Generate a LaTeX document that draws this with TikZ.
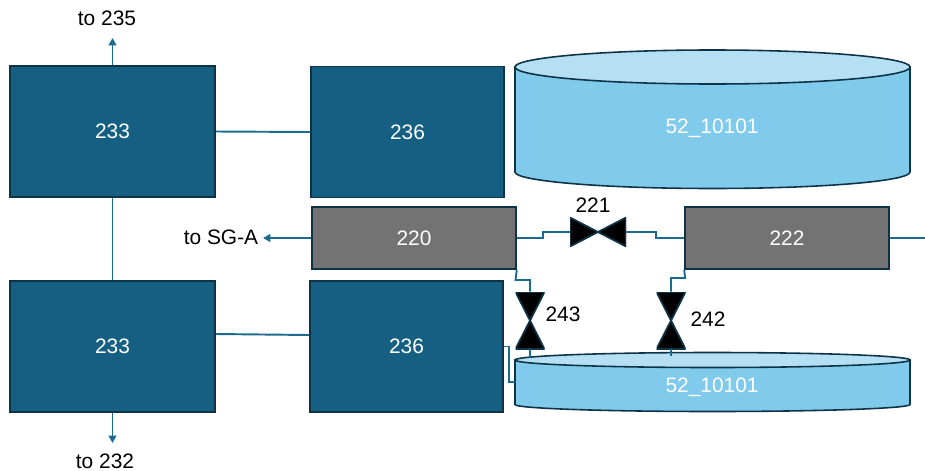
\documentclass[tikz,border=0pt]{standalone}
\usepackage{fontspec}
\setmainfont{Liberation Sans}
\usetikzlibrary{arrows.meta,calc}
\definecolor{boxblue}{HTML}{156082}
\definecolor{boxedge}{HTML}{0E3347}
\definecolor{pipeblue}{HTML}{1B6B8F}
\definecolor{tankblue}{HTML}{80CAEB}
\definecolor{tanktop}{HTML}{B5DFF3}
\definecolor{boxgray}{HTML}{737373}
\tikzset{
  lbl/.style={font=\fontsize{11.9}{14}\selectfont},
  unit/.style={lbl,draw=boxedge,line width=0.9pt,text=white,inner sep=0pt},
  bluebox/.style={unit,fill=boxblue},
  graybox/.style={unit,fill=boxgray},
  tankline/.style={draw=boxedge,line width=0.9pt},
  pipe/.style={draw=pipeblue,line width=1.1pt},
  feed/.style={pipe,-{Triangle[length=4.2pt,width=4.4pt]}},
  valveh/.style={inner sep=0pt,minimum width=1.12cm,minimum height=0.58cm,
    path picture={\draw[fill=black,draw=boxedge,line width=1pt]
      (path picture bounding box.north west) -- (path picture bounding box.south east)
      -- (path picture bounding box.north east) -- (path picture bounding box.south west) -- cycle;}},
  valvev/.style={inner sep=0pt,minimum width=0.58cm,minimum height=1.14cm,
    path picture={\draw[fill=black,draw=boxedge,line width=1pt]
      (path picture bounding box.north west) -- (path picture bounding box.north east)
      -- (path picture bounding box.south west) -- (path picture bounding box.south east) -- cycle;}},
}
\begin{document}
\begin{tikzpicture}[x=0.02cm,y=-0.02cm]
  \useasboundingbox (0,0) rectangle (925,470);
  % boxes
  \foreach \nm/\cx/\cy/\n in {a233/112.5/131.5/233, b233/112.5/346.5/233}
    {\node[bluebox,minimum width=4.1cm,minimum height=2.62cm] (\nm) at (\cx,\cy) {\n};}
  \foreach \nm/\cx/\cy/\n in {a236/407.5/132/236, b236/406.5/346.5/236}
    {\node[bluebox,minimum width=3.86cm,minimum height=2.62cm] (\nm) at (\cx,\cy) {\n};}
  \foreach \nm/\cx/\n in {g220/414/220, g222/787/222}
    {\node[graybox,minimum width=4.08cm,minimum height=1.24cm] (\nm) at (\cx,238) {\n};}
  % pipes under the lower tank
  \coordinate (tap243) at (530,358);
  \coordinate (tap242) at (671,356);
  \coordinate (tap236) at (515,382);
  % tanks
  \draw[tankline,fill=tankblue] (515,67) -- (515,172)
    arc[start angle=180,end angle=0,x radius=197.5,y radius=16.5] -- (910,67) -- cycle;
  \draw[tankline,fill=tanktop] (712.5,67) ellipse[x radius=197.5,y radius=17];
  \node[lbl,text=white] (tankup) at (712,128) {52\_10101};
  \draw[tankline,fill=tankblue] (515,360) -- (515,404.5)
    arc[start angle=180,end angle=0,x radius=197.5,y radius=7] -- (910,360) -- cycle;
  \draw[tankline,fill=tanktop] (712.5,360) ellipse[x radius=197.5,y radius=7.5];
  \node[lbl,text=white] (tanklow) at (712,387) {52\_10101};
  % valves
  \node[valveh] (v221) at (598,232) {};
  \node[valvev] (v243) at (530,320.5) {};
  \node[valvev] (v242) at (671,320.5) {};
  % free ends
  \coordinate (up) at (112.5,38);
  \coordinate (down) at (112.5,443);
  \coordinate (sga) at (263,238);
  \coordinate (out) at (925,238);
  % pipes
  \draw[feed] (a233.north) -- (up);
  \draw[feed] (b233.south) -- (down);
  \draw[feed] (g220.west) -- (sga);
  \draw[pipe] (a233.south) -- (b233.north);
  \draw[pipe] (a233.east) -- (a236.west);
  \draw[pipe] ($(b233.east)+(0,-12.5)$) -- ($(b236.west)+(0,-11.5)$);
  \draw[pipe] (g222.east) -- (out);
  \draw[pipe] (g220.east) -- (543,238) -- (543,232) -- (v221.west);
  \draw[pipe] (v221.east) -- (656,232) -- (656,238) -- (g222.west);
  \draw[pipe] (g220.south east) -- (515.5,280) -- (530,280) -- (v243.north);
  \draw[pipe] (g222.south west) -- (685,278) -- (671,278) -- (v242.north);
  \draw[pipe] (v243.south) -- (tap243);
  \draw[pipe] (v242.south) -- (tap242);
  \draw[pipe] (b236.east) -- (509,346.5) -- (509,382) -- (tap236);
  % labels
  \node[lbl] (t235) at (107,18) {to 235};
  \node[lbl] (t232) at (105,461) {to 232};
  \node[lbl] (tsga) at (221,237) {to SG-A};
  \node[lbl] (t221) at (593,205) {221};
  \node[lbl] (t243) at (563,314) {243};
  \node[lbl] (t242) at (708,319) {242};
\end{tikzpicture}
\end{document}
